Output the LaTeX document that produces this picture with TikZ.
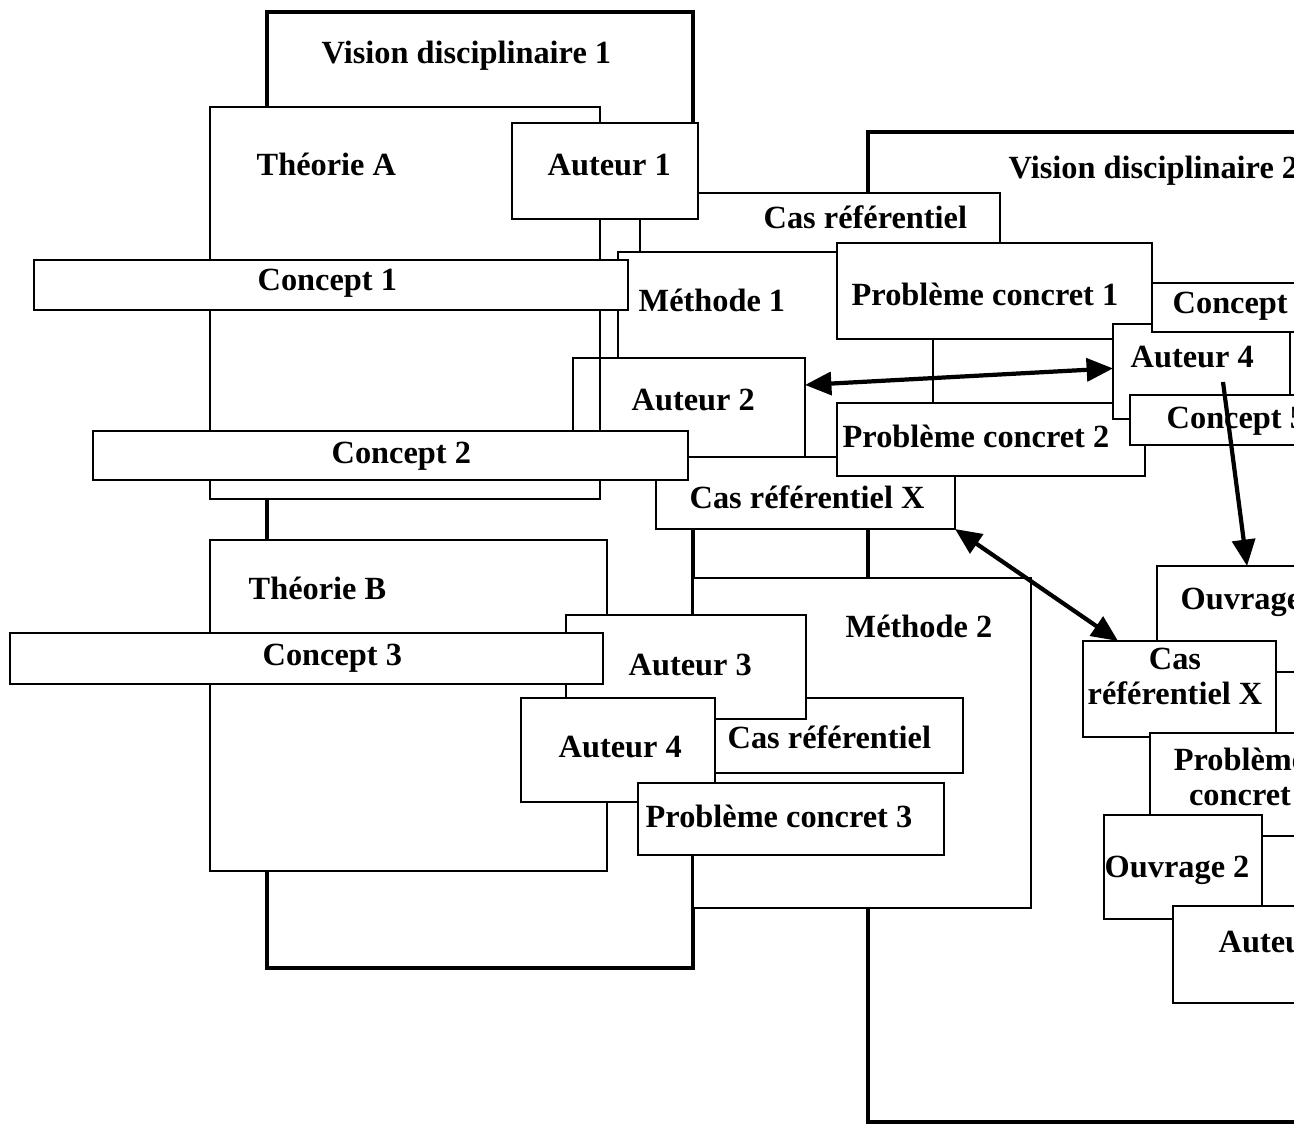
\documentclass[tikz,border=0pt]{standalone}
\usepackage{fontspec}
\setmainfont{Liberation Serif}
\usetikzlibrary{fit,arrows.meta}

\tikzset{
  boite/.style={draw, fill=white, line width=0.6pt, inner sep=0pt, outer sep=0pt},
  vision/.style={boite, line width=1.2pt},
  etiq/.style={font=\fontsize{9.2pt}{9.7pt}\selectfont\bfseries, inner sep=0pt, anchor=base west},
  trait/.style={line width=0.6pt},
  fleche/.style={line width=1.2pt, >={Triangle[length=7.5pt,width=6.5pt]}},
}

\begin{document}
\begin{tikzpicture}[x=0.01cm, y=-0.01cm]
  \useasboundingbox (0,0) rectangle (1294,1124);
  \clip (0,0) rectangle (1294,1124);
  % les deux visions disciplinaires
  \node[vision, fit={(267,12) (693,968)}] (vd1) {};
  \node[etiq] (t-vd1) at (321,63) {Vision disciplinaire 1};
  \node[vision, fit={(868,132) (1420,1122)}] (vd2) {};
  \node[etiq] (t-vd2) at (1008,178) {Vision disciplinaire 2};
  % theories
  \node[boite, fit={(210,107) (600,499)}] (thA) {};
  \node[etiq] (t-thA) at (256,175) {Théorie A};
  \node[boite, fit={(210,540) (607,871)}] (thB) {};
  \node[etiq] (t-thB) at (248,599) {Théorie B};
  % haut
  \node[boite, fit={(640,193) (1000,280)}] (cas1) {};
  \node[etiq] (t-cas1) at (763,228) {Cas référentiel};
  \node[boite, fit={(618,252) (933,470)}] (met1) {};
  \node[etiq] (t-met1) at (638,311) {Méthode 1};
  \node[boite, fit={(512,123) (698,219)}] (aut1) {};
  \node[etiq] (t-aut1) at (547,175) {Auteur 1};
  \node[boite, fit={(34,260) (628,310)}] (con1) {};
  \node[etiq] (t-con1) at (257,290) {Concept 1};
  \node[boite, fit={(837,243) (1152,339)}] (pb1) {};
  \node[etiq] (t-pb1) at (851,305) {Problème concret 1};
  \node[boite, fit={(573,358) (805,457)}] (aut2) {};
  \node[etiq] (t-aut2) at (631,410) {Auteur 2};
  \node[boite, fit={(656,457) (955,529)}] (casx) {};
  \node[etiq] (t-casx) at (689,508) {Cas référentiel X};
  \node[boite, fit={(93,431) (688,480)}] (con2) {};
  \node[etiq] (t-con2) at (331,463) {Concept 2};
  \draw[trait] (thA.east |- aut2.north) -- (thA.east |- con2.north);
  \node[boite, fit={(837,403) (1145,476)}] (pb2) {};
  \node[etiq] (t-pb2) at (842,447) {Problème concret 2};
  \node[boite, fit={(1113,324) (1290,419)}] (aut4d) {};
  \node[etiq] (t-aut4d) at (1130,367) {Auteur 4};
  \node[boite, fit={(1152,283) (1420,332)}] (con4) {};
  \node[etiq] (t-con4) at (1172,313) {Concept 4};
  \node[boite, fit={(1130,395) (1420,445)}] (con5) {};
  \node[etiq] (t-con5) at (1166,428) {Concept 5};
  % bas gauche
  \node[boite, fit={(693,578) (1031,908)}] (met2) {};
  \node[etiq] (t-met2) at (845,637) {Méthode 2};
  \node[boite, fit={(700,698) (963,773)}] (cas2) {};
  \node[etiq] (t-cas2) at (727,748) {Cas référentiel};
  \node[boite, fit={(566,615) (806,719)}] (aut3) {};
  \node[etiq] (t-aut3) at (628,675) {Auteur 3};
  \node[boite, fit={(10,633) (603,684)}] (con3) {};
  \node[etiq] (t-con3) at (262,665) {Concept 3};
  \node[boite, fit={(521,698) (715,802)}] (aut4g) {};
  \node[etiq] (t-aut4g) at (558,757) {Auteur 4};
  \node[boite, fit={(638,783) (944,855)}] (pb3) {};
  \node[etiq] (t-pb3) at (645,827) {Problème concret 3};
  % bas droite
  \node[boite, fit={(1157,566) (1420,672)}] (ouv) {};
  \node[etiq] (t-ouv) at (1180,609) {Ouvrage};
  \node[boite, fit={(1083,641) (1276,737)}] (casx2) {};
  \node[etiq, align=center, anchor=base] (t-casx2) at (1175,704) {Cas\\référentiel X};
  \node[boite, fit={(1150,733) (1420,836)}] (pb4) {};
  \node[etiq, align=center, anchor=base] (t-pb4) at (1240,805) {Problème\\concret};
  \node[boite, fit={(1104,815) (1262,919)}] (ouv2) {};
  \node[etiq] (t-ouv2) at (1104,877) {Ouvrage 2};
  \node[boite, fit={(1173,906) (1420,1003)}] (aut5) {};
  \node[etiq] (t-aut5) at (1218,952) {Auteur};
  % liens
  \coordinate (depart) at (1223,382);
  \draw[fleche, <->] (aut2.11) -- (aut4d.178);
  \draw[fleche, <->] (casx.south east) -- (casx2.142);
  \draw[fleche, ->] (depart) -- ([xshift=0.9cm]ouv.north west);
\end{tikzpicture}
\end{document}
